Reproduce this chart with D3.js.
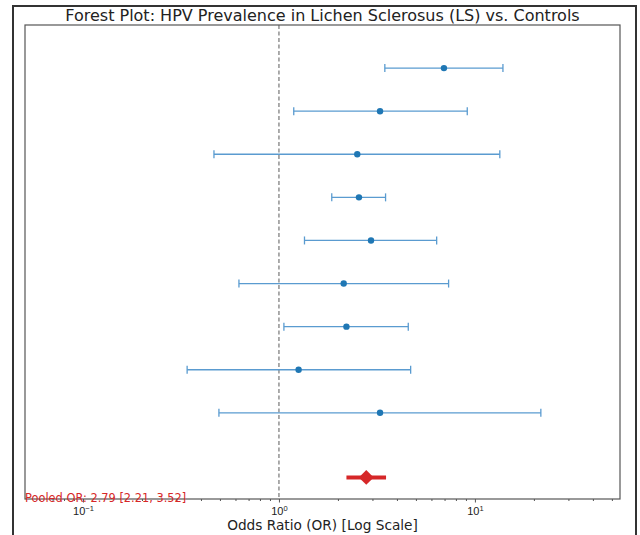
<!DOCTYPE html>
<html>
<head>
<meta charset="utf-8">
<script src="https://cdn.jsdelivr.net/npm/d3@7"></script>
<style>
  body { margin: 0; background: #fff; }
  svg { font-family: "DejaVu Sans", sans-serif; }
</style>
</head>
<body>
<div id="chart"></div>
<script>

// Study estimates, top row first (position on y axis = 9 .. 1)
const studyPos = [9, 8, 7, 6, 5, 4, 3, 2, 1];
const studyOR  = [6.95, 3.28, 2.51, 2.56, 2.95, 2.14, 2.21, 1.26, 3.28];
const studyLo  = [3.47, 1.19, 0.466, 1.86, 1.35, 0.625, 1.06, 0.34, 0.494];
const studyHi  = [13.9, 9.14, 13.4, 3.50, 6.38, 7.34, 4.57, 4.70, 21.7];

// Pooled estimate
const pooledPos = -0.5;
const pooledOR = 2.79;
const pooledLo = 2.21;
const pooledHi = 3.52;

// Axis ticks
const majorTicks = [0.1, 1, 10];
const majorExp = ["\u22121", "0", "1"];
const minorTicks = [0.06, 0.07, 0.08, 0.09,
                    0.2, 0.3, 0.4, 0.5, 0.6, 0.7, 0.8, 0.9,
                    2, 3, 4, 5, 6, 7, 8, 9,
                    20, 30, 40, 50];

const width = 640;
const height = 535;
const plot = {left: 25, right: 620, top: 25, bottom: 499};

const svg = d3.select("#chart")
  .append("svg")
  .attr("width", width)
  .attr("height", height);

// figure frame
svg.append("rect")
  .attr("x", 13).attr("y", 6)
  .attr("width", 623).attr("height", 540)
  .attr("fill", "none")
  .attr("stroke", "#333")
  .attr("stroke-width", 2);

// Scales
const x = d3.scaleLog()
  .domain([0.0506, 55])
  .range([plot.left, plot.right]);

const y = d3.scaleLinear()
  .domain([-1, 10])
  .range([plot.bottom, plot.top]);

// reference line at OR = 1
svg.append("line")
  .attr("x1", x(1)).attr("x2", x(1))
  .attr("y1", plot.top).attr("y2", plot.bottom)
  .attr("stroke", "#808080")
  .attr("stroke-width", 1.3)
  .attr("stroke-dasharray", "4,2.5");

// error bars
const rows = studyPos.map((p, i) => ({pos: p, or: studyOR[i], lo: studyLo[i], hi: studyHi[i]}));

const g = svg.append("g");
g.selectAll(".ci")
  .data(rows)
  .enter()
  .append("line")
    .attr("class", "ci")
    .attr("x1", d => x(d.lo))
    .attr("x2", d => x(d.hi))
    .attr("y1", d => y(d.pos))
    .attr("y2", d => y(d.pos))
    .attr("stroke", "#5a9bd0")
    .attr("stroke-width", 1.3);

["lo", "hi"].forEach(k => {
  g.selectAll(".cap-" + k)
    .data(rows)
    .enter()
    .append("line")
      .attr("class", "cap-" + k)
      .attr("x1", d => x(d[k]))
      .attr("x2", d => x(d[k]))
      .attr("y1", d => y(d.pos) - 4)
      .attr("y2", d => y(d.pos) + 4)
      .attr("stroke", "#5a9bd0")
      .attr("stroke-width", 1.3);
});

g.selectAll(".pt")
  .data(rows)
  .enter()
  .append("circle")
    .attr("class", "pt")
    .attr("cx", d => x(d.or))
    .attr("cy", d => y(d.pos))
    .attr("r", 3.2)
    .attr("fill", "#1f77b4");

// pooled estimate
svg.append("line")
  .attr("x1", x(pooledLo)).attr("x2", x(pooledHi))
  .attr("y1", y(pooledPos)).attr("y2", y(pooledPos))
  .attr("stroke", "#d62728")
  .attr("stroke-width", 4);

svg.append("path")
  .attr("d", d3.symbol().type(d3.symbolSquare).size(110))
  .attr("transform", `translate(${x(pooledOR)},${y(pooledPos)}) rotate(45)`)
  .attr("fill", "#d62728");

// axes frame
svg.append("rect")
  .attr("x", plot.left).attr("y", plot.top)
  .attr("width", plot.right - plot.left)
  .attr("height", plot.bottom - plot.top)
  .attr("fill", "none")
  .attr("stroke", "#555")
  .attr("stroke-width", 1.2);

// x axis ticks
const xAxis = svg.append("g")
  .attr("transform", `translate(0,${plot.bottom})`);

xAxis.append("g")
  .call(d3.axisBottom(x).tickValues(minorTicks).tickSize(2).tickFormat(""))
  .call(s => s.select(".domain").remove())
  .selectAll("line").attr("stroke", "#555");

const major = xAxis.append("g")
  .call(d3.axisBottom(x).tickValues(majorTicks).tickSize(3.5).tickFormat(""))
  .call(s => s.select(".domain").remove());
major.selectAll("line").attr("stroke", "#555");

major.selectAll(".tick text")
  .data(majorTicks)
  .attr("y", 0)
  .attr("dy", null)
  .attr("font-size", 11)
  .attr("fill", "#222")
  .each(function(d, i) {
    const t = d3.select(this);
    t.append("tspan").attr("y", 16).text("10");
    t.append("tspan").attr("dy", -4.5).attr("font-size", 7.5).text(majorExp[i]);
  });

// pooled label
svg.append("text")
  .attr("x", plot.left)
  .attr("y", plot.bottom + 3)
  .attr("font-size", 11.4)
  .attr("fill", "#d62728")
  .text(`Pooled OR: ${pooledOR.toFixed(2)} [${pooledLo.toFixed(2)}, ${pooledHi.toFixed(2)}]`);

// axis label
svg.append("text")
  .attr("x", (plot.left + plot.right) / 2)
  .attr("y", 530)
  .attr("text-anchor", "middle")
  .attr("font-size", 13.7)
  .attr("fill", "#222")
  .text("Odds Ratio (OR) [Log Scale]");

// title
svg.append("text")
  .attr("x", (plot.left + plot.right) / 2)
  .attr("y", 21)
  .attr("text-anchor", "middle")
  .attr("font-size", 16)
  .attr("fill", "#222")
  .text("Forest Plot: HPV Prevalence in Lichen Sclerosus (LS) vs. Controls");

</script>
</body>
</html>
